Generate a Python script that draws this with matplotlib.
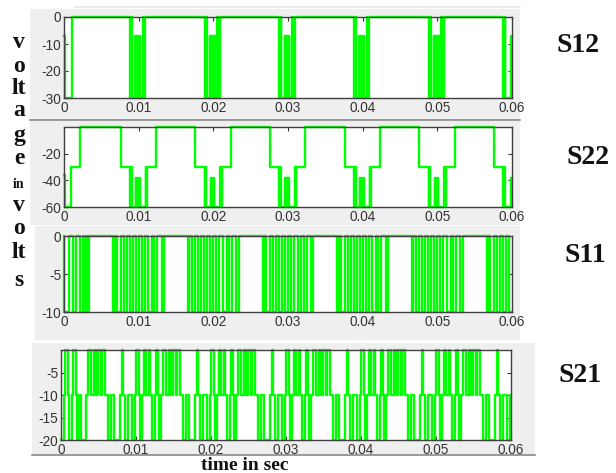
import numpy as np
import matplotlib
matplotlib.use('Agg')
import matplotlib.pyplot as plt
from matplotlib.patches import Rectangle
from matplotlib.lines import Line2D

# ---------------- data ----------------
x_ticks = [0, 0.01, 0.02, 0.03, 0.04, 0.05, 0.06]
x_ticklabels = ['0', '0.01', '0.02', '0.03', '0.04', '0.05', '0.06']
panel_names = ['S12', 'S22', 'S11', 'S21']

s12_t = [0, 0.0002, 0.0011,
         0.00884, 0.00900, 0.00911, 0.00956, 0.00962, 0.00970, 0.00976, 0.00984, 0.00990, 0.00998, 0.01004, 0.01012, 0.01018, 0.01053, 0.01065, 0.01089,
         0.01884, 0.01900, 0.01911, 0.01956, 0.01962, 0.01970, 0.01976, 0.01984, 0.01990, 0.01998, 0.02004, 0.02012, 0.02018, 0.02053, 0.02065, 0.02089,
         0.02884, 0.02900, 0.02911, 0.02956, 0.02962, 0.02970, 0.02976, 0.02984, 0.02990, 0.02998, 0.03004, 0.03012, 0.03018, 0.03053, 0.03065, 0.03089,
         0.03884, 0.03900, 0.03911, 0.03956, 0.03962, 0.03970, 0.03976, 0.03984, 0.03990, 0.03998, 0.04004, 0.04012, 0.04018, 0.04053, 0.04065, 0.04089,
         0.04884, 0.04900, 0.04911, 0.04956, 0.04962, 0.04970, 0.04976, 0.04984, 0.04990, 0.04998, 0.05004, 0.05012, 0.05018, 0.05053, 0.05065, 0.05089,
         0.05884, 0.05900, 0.05911, 0.05990, 0.06]
s12_v = [-7, -30, 0,
         -30, 0, -30, -7, -30, -7, -30, -7, -30, -7, -30, -7, -30, 0, -30, 0,
         -30, 0, -30, -7, -30, -7, -30, -7, -30, -7, -30, -7, -30, 0, -30, 0,
         -30, 0, -30, -7, -30, -7, -30, -7, -30, -7, -30, -7, -30, 0, -30, 0,
         -30, 0, -30, -7, -30, -7, -30, -7, -30, -7, -30, -7, -30, 0, -30, 0,
         -30, 0, -30, -7, -30, -7, -30, -7, -30, -7, -30, -7, -30, 0, -30, 0,
         -30, 0, -30, -7, -7]

s22_t = [0, 0.0002, 0.0010, 0.0022,
         0.00760, 0.00883, 0.00895, 0.00905, 0.00964, 0.00970, 0.00978, 0.00984, 0.00992, 0.00998, 0.01006, 0.01012, 0.01095, 0.01102, 0.01110, 0.01230,
         0.01760, 0.01883, 0.01895, 0.01905, 0.01964, 0.01970, 0.01978, 0.01984, 0.01992, 0.01998, 0.02006, 0.02012, 0.02095, 0.02102, 0.02110, 0.02230,
         0.02760, 0.02883, 0.02895, 0.02905, 0.02964, 0.02970, 0.02978, 0.02984, 0.02992, 0.02998, 0.03006, 0.03012, 0.03095, 0.03102, 0.03110, 0.03230,
         0.03760, 0.03883, 0.03895, 0.03905, 0.03964, 0.03970, 0.03978, 0.03984, 0.03992, 0.03998, 0.04006, 0.04012, 0.04095, 0.04102, 0.04110, 0.04230,
         0.04760, 0.04883, 0.04895, 0.04905, 0.04964, 0.04970, 0.04978, 0.04984, 0.04992, 0.04998, 0.05006, 0.05012, 0.05095, 0.05102, 0.05110, 0.05230,
         0.05760, 0.05883, 0.05895, 0.05905, 0.05990, 0.06]
s22_v = [-36, -60, -30, 0,
         -30, -60, -30, -60, -38, -60, -38, -60, -38, -60, -38, -60, -30, -60, -30, 0,
         -30, -60, -30, -60, -38, -60, -38, -60, -38, -60, -38, -60, -30, -60, -30, 0,
         -30, -60, -30, -60, -38, -60, -38, -60, -38, -60, -38, -60, -30, -60, -30, 0,
         -30, -60, -30, -60, -38, -60, -38, -60, -38, -60, -38, -60, -30, -60, -30, 0,
         -30, -60, -30, -60, -38, -60, -38, -60, -38, -60, -38, -60, -30, -60, -30, 0,
         -30, -60, -30, -60, -38, -38]

# S11: two-level signal (0 / -10); instants at which it toggles, starting from 0
s11_levels = [0, -10]
s11_toggles = [0.0000, 0.0007, 0.0012, 0.0016, 0.0021, 0.0025, 0.0028, 0.0031, 0.0032, 0.0034,
               0.0066, 0.0068, 0.0071, 0.0076, 0.0080, 0.0084, 0.0088, 0.0092, 0.0096, 0.0100, 0.0104, 0.0108, 0.0113, 0.0118, 0.0121, 0.0125, 0.0131, 0.0134,
               0.0166, 0.0168, 0.0171, 0.0176, 0.0180, 0.0184, 0.0188, 0.0192, 0.0196, 0.0200, 0.0204, 0.0208, 0.0213, 0.0218, 0.0221, 0.0225, 0.0231, 0.0234,
               0.0266, 0.0268, 0.0271, 0.0276, 0.0280, 0.0284, 0.0288, 0.0292, 0.0296, 0.0300, 0.0304, 0.0308, 0.0313, 0.0318, 0.0321, 0.0325, 0.0331, 0.0334,
               0.0366, 0.0368, 0.0371, 0.0376, 0.0380, 0.0384, 0.0388, 0.0392, 0.0396, 0.0400, 0.0404, 0.0408, 0.0413, 0.0418, 0.0421, 0.0425, 0.0431, 0.0434,
               0.0466, 0.0468, 0.0471, 0.0476, 0.0480, 0.0484, 0.0488, 0.0492, 0.0496, 0.0500, 0.0504, 0.0508, 0.0513, 0.0518, 0.0521, 0.0525, 0.0531, 0.0534,
               0.0566, 0.0568, 0.0571, 0.0576, 0.0580, 0.0584, 0.0588, 0.0592, 0.0596]

# S21: three-level signal (0 / -10 / -20)
s21_t_start = [0, 0.0004, 0.0005, 0.0009, 0.0011, 0.0014, 0.0016, 0.0020, 0.0021, 0.0024,
               0.0027, 0.0033, 0.0036, 0.0040, 0.0044, 0.0047, 0.0049, 0.0053, 0.0055, 0.0059]
s21_v_start = [-20, -10, 0, -10, -20, -10, 0, -10, -20, -10,
               -20, -10, 0, -10, 0, -10, 0, -10, 0, -10]
s21_v_period = [-20, -10, -20, -10, 0, -10, -20, -10, -20, -10, 0, -10, -20, -10, 0, -10,
                0, -10, -20, -10, 0, -10, -20, -10, 0, -10, 0, -10, 0, -10, 0, -10]
s21_t_p1 = [0.0063, 0.0067, 0.0071, 0.0078, 0.0081, 0.0083, 0.0085, 0.0089, 0.0094, 0.0099, 0.0100, 0.0104, 0.0105, 0.0108, 0.0110, 0.0113,
            0.0117, 0.0119, 0.0121, 0.0125, 0.0127, 0.0129, 0.0130, 0.0133, 0.0136, 0.0140, 0.0144, 0.0147, 0.0149, 0.0153, 0.0155, 0.0159]
s21_t_p2 = [0.0163, 0.0167, 0.0171, 0.0178, 0.0181, 0.0183, 0.0185, 0.0189, 0.0194, 0.0199, 0.0200, 0.0204, 0.0205, 0.0208, 0.0210, 0.0213,
            0.0217, 0.0219, 0.0221, 0.0225, 0.0227, 0.0229, 0.0230, 0.0233, 0.0236, 0.0240, 0.0244, 0.0247, 0.0249, 0.0253, 0.0255, 0.0259]
s21_t_p3 = [0.0263, 0.0267, 0.0271, 0.0278, 0.0281, 0.0283, 0.0285, 0.0289, 0.0294, 0.0299, 0.0300, 0.0304, 0.0305, 0.0308, 0.0310, 0.0313,
            0.0317, 0.0319, 0.0321, 0.0325, 0.0327, 0.0329, 0.0330, 0.0333, 0.0336, 0.0340, 0.0344, 0.0347, 0.0349, 0.0353, 0.0355, 0.0359]
s21_t_p4 = [0.0363, 0.0367, 0.0371, 0.0378, 0.0381, 0.0383, 0.0385, 0.0389, 0.0394, 0.0399, 0.0400, 0.0404, 0.0405, 0.0408, 0.0410, 0.0413,
            0.0417, 0.0419, 0.0421, 0.0425, 0.0427, 0.0429, 0.0430, 0.0433, 0.0436, 0.0440, 0.0444, 0.0447, 0.0449, 0.0453, 0.0455, 0.0459]
s21_t_p5 = [0.0463, 0.0467, 0.0471, 0.0478, 0.0481, 0.0483, 0.0485, 0.0489, 0.0494, 0.0499, 0.0500, 0.0504, 0.0505, 0.0508, 0.0510, 0.0513,
            0.0517, 0.0519, 0.0521, 0.0525, 0.0527, 0.0529, 0.0530, 0.0533, 0.0536, 0.0540, 0.0544, 0.0547, 0.0549, 0.0553, 0.0555, 0.0559]
s21_t_end = [0.0563, 0.0567, 0.0571, 0.0578, 0.0581, 0.0583, 0.0585, 0.0589, 0.0594, 0.0599, 0.06]
s21_v_end = [-20, -10, -20, -10, 0, -10, -20, -10, -20, -10, -10]

# ---------------- figure ----------------
W, H = 616, 473
fig = plt.figure(figsize=(W / 100, H / 100), dpi=100)
fig.patch.set_facecolor('white')


def fx(x):
    return x / W


def fy(y):
    return 1 - y / H


panels = [(30, 9, 520, 120), (30, 121, 520, 225), (35, 226, 520, 340), (32, 343, 535, 455)]
for x0, y0, x1, y1 in panels:
    fig.add_artist(Rectangle((fx(x0), fy(y1)), (x1 - x0) / W, (y1 - y0) / H,
                             transform=fig.transFigure, facecolor='#efefef',
                             edgecolor='none', zorder=0))
for x0, x1, y, c in [(30, 520, 120, '#8a8a8a'), (32, 535, 455, '#8a8a8a'), (75, 520, 7, '#e8e8e8')]:
    fig.add_artist(Line2D([fx(x0), fx(x1)], [fy(y), fy(y)], transform=fig.transFigure,
                          color=c, lw=1.2, zorder=1))

axes_px = [(64, 17, 512, 98), (64, 127, 512, 207), (64, 236, 512, 312), (61, 350, 511, 440)]
ylims = [(-30, 0), (-60, 0), (-10, 0), (-20, 0)]
yticks = [[-30, -20, -10, 0], [-60, -40, -20], [-10, -5, 0], [-20, -15, -10, -5]]
label_pos = [(578, 45), (588, 158), (585, 255), (580, 375)]

tick_family = ['Liberation Sans', 'DejaVu Sans']
axs = []
for (x0, y0, x1, y1), yl, yt in zip(axes_px, ylims, yticks):
    ax = fig.add_axes([fx(x0), fy(y1), (x1 - x0) / W, (y1 - y0) / H])
    ax.set_facecolor('white')
    ax.set_xlim(0, 0.06)
    ax.set_ylim(*yl)
    ax.set_xticks(x_ticks)
    ax.set_xticklabels(x_ticklabels)
    ax.set_yticks(yt)
    ax.set_yticklabels([str(v) for v in yt])
    ax.tick_params(direction='in', length=3, width=0.8, top=True, right=True,
                   colors='#303030', pad=2)
    for lab in ax.get_xticklabels() + ax.get_yticklabels():
        lab.set_fontfamily(tick_family)
        lab.set_fontsize(9.8)
        lab.set_color('#333333')
    for sp in ax.spines.values():
        sp.set_color('#404040')
        sp.set_linewidth(1.0)
    axs.append(ax)

green = '#00ff00'
lw = 1.7

axs[0].step(s12_t, s12_v, where='post', color=green, lw=lw, clip_on=False)
axs[1].step(s22_t, s22_v, where='post', color=green, lw=lw, clip_on=False)

# S11 from its toggle instants
t11 = [0.0]
v11 = [s11_levels[0]]
state = 0
for tt in s11_toggles:
    state = 1 - state
    t11.append(tt)
    v11.append(s11_levels[state])
t11.append(0.06)
v11.append(v11[-1])
axs[2].step(t11, v11, where='post', color=green, lw=lw, clip_on=False)

# S21
t21 = s21_t_start + s21_t_p1 + s21_t_p2 + s21_t_p3 + s21_t_p4 + s21_t_p5 + s21_t_end
v21 = s21_v_start + s21_v_period * 5 + s21_v_end
axs[3].step(t21, v21, where='post', color=green, lw=lw, clip_on=False)

serif = ['Liberation Serif', 'DejaVu Serif']
for name, (x, y) in zip(panel_names, label_pos):
    fig.text(fx(x), fy(y), name, family=serif, weight='bold', size=20,
             ha='center', va='center', color='#111111')

letters = [('v', 43, 17), ('o', 66, 17), ('lt', 88, 17), ('a', 110, 17), ('g', 135, 17),
           ('e', 158, 17), ('in', 184, 10), ('v', 205, 17), ('o', 228, 17), ('lt', 252, 17),
           ('s', 280, 17)]
for s, y, sz in letters:
    fig.text(fx(19), fy(y), s, family=serif, weight='bold', size=sz,
             ha='center', va='center', color='#111111')

fig.text(fx(245), fy(457), 'time in sec', family=serif, weight='bold', size=14,
         ha='center', va='top', color='#111111')

fig.savefig('out.png', dpi=100)
